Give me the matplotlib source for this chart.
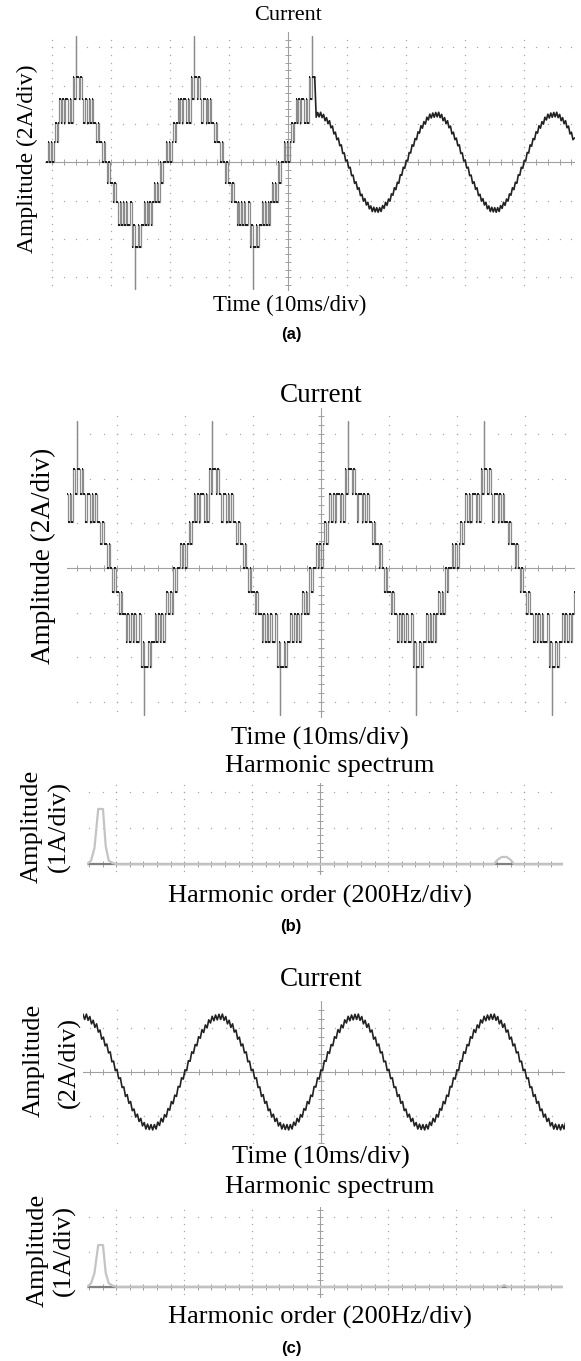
import numpy as np
import matplotlib.pyplot as plt

W, H = 581, 1361
SERIF = 'Liberation Serif'
SANS = 'Liberation Sans'

# multilevel inverter current: one 20 ms cycle starting at the rising zero
# crossing, level index per 0.25 ms sample (0.025 div); +-5 marks the spike
stair_cycle = [0, 1, 0, 1, 0, 1, 2, 1, 2, 3, 2, 3, 2, 3, 3, 2, 3, 2, 4, 3,
               5, 4, 3, 4, 3, 2, 3, 3, 2, 3, 2, 3, 2, 2, 1, 2, 1, 1, 0, 1,
               0, -1, 0, -1, -1, -2, -1, -2, -2, -3, -2, -3, -2, -3, -2, -3, -3, -2, -4, -3,
               -5, -4, -3, -4, -3, -3, -2, -3, -2, -3, -2, -3, -2, -1, -2, -1, -2, 0, -1, 0]
stair_levels = [0, 1.06, 2.06, 3.30, 4.44, 6.60]   # A

# filtered current: one cycle from the positive peak, per 0.25 ms sample (A)
sine_cycle = [2.60, 2.37, 2.61, 2.33, 2.50, 2.17, 2.33, 2.01, 2.17, 1.80,
              1.89, 1.48, 1.57, 1.18, 1.26, 0.86, 0.91, 0.46, 0.49, 0.06,
              0.12, -0.30, -0.26, -0.70, -0.67, -1.10, -1.02, -1.41, -1.33, -1.74,
              -1.67, -2.03, -1.90, -2.23, -2.09, -2.43, -2.28, -2.57, -2.35, -2.59,
              -2.37, -2.61, -2.37, -2.57, -2.26, -2.41, -2.09, -2.25, -1.92, -2.03,
              -1.65, -1.72, -1.33, -1.43, -1.04, -1.10, -0.65, -0.68, -0.26, -0.32,
              0.10, 0.06, 0.51, 0.48, 0.91, 0.84, 1.24, 1.18, 1.59, 1.52,
              1.91, 1.78, 2.12, 1.99, 2.35, 2.21, 2.51, 2.31, 2.57, 2.35]

# harmonic spectra (Hz, A)
spec_b_freq = [8, 20, 30, 41, 55, 63, 72, 84, 96, 1205, 1215, 1228, 1242, 1254, 1264, 1408]
spec_b_amp = [0, 0.10, 0.45, 1.53, 1.53, 0.50, 0.10, 0.03, 0, 0, 0.12, 0.20, 0.20, 0.12, 0, 0]
spec_c_freq = [8, 20, 30, 41, 55, 63, 72, 84, 96, 1225, 1235, 1245, 1408]
spec_c_amp = [0, 0.10, 0.40, 1.20, 1.20, 0.40, 0.10, 0.03, 0, 0, 0.05, 0, 0]

A_PER_DIV_I = 2.0
A_PER_DIV_SPEC = 1.0
HZ_PER_DIV = 200.0
SPEC_CENTER_HZ = 694.0
DT_STAIR = 0.025
DT_SINE = 0.025

fig = plt.figure(figsize=(W / 100, H / 100), dpi=100)


def px_axes(left, top, right, bottom):
    return fig.add_axes([left / W, 1 - bottom / H, (right - left) / W, (bottom - top) / H])


def px_text(x, y, s, size, rot=0, bold=False):
    fig.text(x / W, 1 - y / H, s, ha='center', va='center', rotation=rot,
             fontsize=size, family=SANS if bold else SERIF,
             fontweight='bold' if bold else 'normal')


def scope_grid(ax, x0, x1, y0, y1):
    ax.set_xlim(x0, x1)
    ax.set_ylim(y0, y1)
    ax.axis('off')
    xs = np.arange(np.ceil(x0 / 0.2) * 0.2, x1, 0.2)
    ys = np.arange(np.ceil(y0 / 0.2) * 0.2, y1, 0.2)
    for gx in range(int(np.ceil(x0)), int(np.floor(x1)) + 1):
        if gx != 0:
            ax.plot(np.full(len(ys), gx), ys, ls='none', marker='o', ms=1.0,
                    mew=0, color='#a8a8a8')
    for gy in range(int(np.ceil(y0)), int(np.floor(y1)) + 1):
        if gy != 0:
            ax.plot(xs, np.full(len(xs), gy), ls='none', marker='o', ms=1.0,
                    mew=0, color='#a8a8a8')
    ax.axhline(0, color='#a0a0a0', lw=0.8)
    ax.axvline(0, color='#a0a0a0', lw=0.8)
    ax.plot(xs, np.zeros(len(xs)), ls='none', marker='|', ms=4, mew=0.7, color='#a0a0a0')
    ax.plot(np.zeros(len(ys)), ys, ls='none', marker='_', ms=4, mew=0.7, color='#a0a0a0')


def draw_stair(ax, t_start, n):
    idx = np.tile(stair_cycle, n // len(stair_cycle) + 1)[:n]
    lv = np.array(stair_levels) / A_PER_DIV_I
    xs, ys, flats = [], [], []
    for i, k in enumerate(idx):
        t = t_start + DT_STAIR * i
        s = np.sign(k)
        if abs(k) == 5:
            base = s * lv[4]
            xs += [t, t, t + DT_STAIR]
            ys += [s * lv[5], base, base]
            flats.append((base, t, t + DT_STAIR))
        else:
            xs += [t, t + DT_STAIR]
            ys += [s * lv[abs(k)]] * 2
            flats.append((s * lv[abs(k)], t, t + DT_STAIR))
    ax.plot(xs, ys, color='#8c8c8c', lw=0.9)
    fy, fx0, fx1 = zip(*flats)
    ax.hlines(fy, fx0, fx1, color='#1a1a1a', lw=1.4)
    return xs[-1], ys[-1]


def sine_trace(t_peak, n):
    v = np.tile(sine_cycle, n // len(sine_cycle) + 1)[:n] / A_PER_DIV_I
    t = t_peak + DT_SINE * np.arange(n)
    return t, v


def spectrum(ax, freq, amp):
    x = (np.array(freq) - SPEC_CENTER_HZ) / HZ_PER_DIV
    ax.axhline(0, color='#808080', lw=1.6)
    ax.plot(x, np.array(amp) / A_PER_DIV_SPEC, color='#c4c4c4', lw=1.6)


# ---------------- (a) ----------------
ax = px_axes(45, 32, 575, 291)
scope_grid(ax, -4.12, 4.86, -3.36, 3.4)
te, ve = draw_stair(ax, -4.1, 182)
t, v = sine_trace(-1.5, 258)
keep = (t >= te) & (t <= 4.86)
ax.plot(np.r_[te, t[keep]], np.r_[ve, v[keep]], color='#222222', lw=1.2)

px_text(288, 16, 'Current', 16)
px_text(27, 159, 'Amplitude (2A/div)', 17, rot=90)
px_text(290, 305, 'Time (10ms/div)', 16.5)
px_text(291, 335, '(a)', 12, bold=True)

# ---------------- (b) ----------------
ax = px_axes(67, 408, 575, 718)
scope_grid(ax, -3.74, 3.74, -3.36, 3.58)
draw_stair(ax, -4.1, 320)

ax = px_axes(87, 783, 563, 875)
scope_grid(ax, -3.43, 3.57, -0.3, 2.25)
spectrum(ax, spec_b_freq, spec_b_amp)

px_text(321, 395, 'Current', 19.5)
px_text(43, 556, 'Amplitude (2A/div)', 19.5, rot=90)
px_text(320, 738, 'Time (10ms/div)', 19)
px_text(330, 766, 'Harmonic spectrum', 19)
px_text(32, 826, 'Amplitude', 19, rot=90)
px_text(59, 826, '(1A/div)', 19, rot=90)
px_text(320, 896, 'Harmonic order (200Hz/div)', 19)
px_text(291, 926, '(b)', 12, bold=True)

# ---------------- (c) ----------------
ax = px_axes(83, 1001, 565, 1143)
scope_grid(ax, -3.50, 3.59, -1.6, 1.6)
t, v = sine_trace(-3.5, 285)
ax.plot(t, v, color='#222222', lw=1.2)

ax = px_axes(87, 1207, 563, 1298)
scope_grid(ax, -3.43, 3.57, -0.32, 2.29)
spectrum(ax, spec_c_freq, spec_c_amp)

px_text(321, 979, 'Current', 19.5)
px_text(34, 1060, 'Amplitude', 19, rot=90)
px_text(69, 1062, '(2A/div)', 19, rot=90)
px_text(321, 1157, 'Time (10ms/div)', 19)
px_text(330, 1187, 'Harmonic spectrum', 19)
px_text(38, 1250, 'Amplitude', 19, rot=90)
px_text(64, 1250, '(1A/div)', 19, rot=90)
px_text(320, 1317, 'Harmonic order (200Hz/div)', 19)
px_text(291, 1348, '(c)', 12, bold=True)

fig.savefig('out.png', dpi=100, facecolor='white')
